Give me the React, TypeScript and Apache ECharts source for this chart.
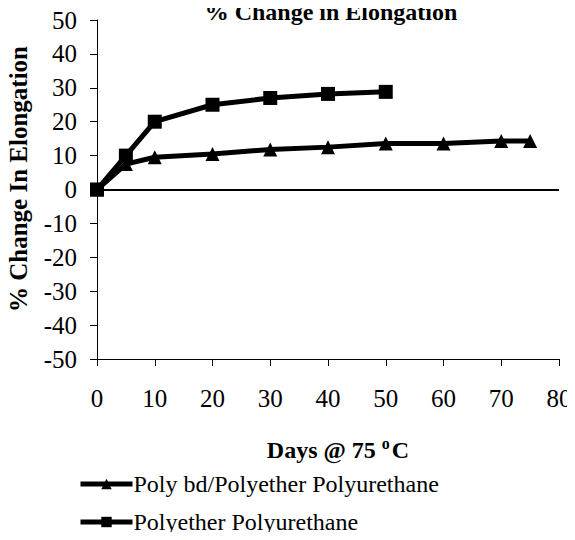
import React, { useEffect, useRef } from "react";
import * as echarts from "echarts";

const titleText = "% Change in Elongation";
const yAxisTitle = "% Change In Elongation";
const xAxisTitle = "{a|Days @ 75 }{s|o}{a|C}";
const seriesNames = ["Poly bd/Polyether Polyurethane", "Polyether Polyurethane"];
const polyBdDays = [0, 5, 10, 20, 30, 40, 50, 60, 70, 75];
const polyBdValues = [0, 7.5, 9.5, 10.5, 11.8, 12.5, 13.6, 13.6, 14.3, 14.3];
const polyetherDays = [0, 5, 10, 20, 30, 40, 50];
const polyetherValues = [0, 10, 20, 25, 27, 28.2, 28.8];

const FONT = "Liberation Serif";

const legendBase = {
  orient: "horizontal",
  left: 73,
  itemWidth: 52,
  itemHeight: 13,
  lineStyle: { width: 5, color: "#000" },
  textStyle: { fontFamily: FONT, fontSize: 24, color: "#000", padding: [0, 0, 0, -4] },
};

export default function App() {
  const ref = useRef<HTMLDivElement>(null);
  useEffect(() => {
    if (!ref.current) return;
    const chart = echarts.init(ref.current, undefined, { renderer: "svg" });
    chart.setOption({
      animation: false,
      backgroundColor: "#ffffff",
      grid: { left: 97, right: 16, top: 20, bottom: 181, containLabel: false },
      legend: [
        { ...legendBase, top: 467, data: [seriesNames[0]] },
        { ...legendBase, top: 505, data: [seriesNames[1]] },
      ],
      xAxis: {
        type: "value",
        min: 0,
        max: 80,
        interval: 10,
        axisLine: { onZero: false, lineStyle: { color: "#000", width: 1 } },
        axisTick: { show: true, inside: false, length: 7, lineStyle: { color: "#000" } },
        axisLabel: { margin: 27, fontFamily: FONT, fontSize: 25, color: "#000" },
        splitLine: { show: false },
      },
      yAxis: {
        type: "value",
        min: -50,
        max: 50,
        interval: 10,
        axisLine: { show: true, lineStyle: { color: "#000", width: 1 } },
        axisTick: { show: true, inside: false, length: 7, lineStyle: { color: "#000" } },
        axisLabel: { margin: 20, fontFamily: FONT, fontSize: 25, color: "#000" },
        splitLine: { show: false },
      },
      graphic: [
        {
          type: "text",
          x: 331,
          y: 12,
          style: {
            text: titleText,
            fontFamily: FONT,
            fontWeight: "bold",
            fontSize: 24,
            fill: "#000",
            textAlign: "center",
            textVerticalAlign: "middle",
          },
        },
        {
          type: "text",
          x: 18,
          y: 179,
          rotation: Math.PI / 2,
          style: {
            text: yAxisTitle,
            fontFamily: FONT,
            fontWeight: "bold",
            fontSize: 25,
            fill: "#000",
            textAlign: "center",
            textVerticalAlign: "middle",
          },
        },
        {
          type: "text",
          x: 338,
          y: 450,
          style: {
            text: xAxisTitle,
            textAlign: "center",
            textVerticalAlign: "middle",
            rich: {
              a: { fontFamily: FONT, fontWeight: "bold", fontSize: 24, fill: "#000" },
              s: { fontFamily: FONT, fontWeight: "bold", fontSize: 16, fill: "#000", padding: [0, 2, 14, 0] },
            },
          },
        },
      ],
      series: [
        {
          name: seriesNames[0],
          type: "line",
          data: polyBdDays.map((d, i) => [d, polyBdValues[i]]),
          symbol: "triangle",
          symbolSize: 14,
          lineStyle: { color: "#000", width: 5 },
          itemStyle: { color: "#000" },
          z: 3,
          markLine: {
            silent: true,
            symbol: "none",
            label: { show: false },
            lineStyle: { color: "#000", width: 2, type: "solid" },
            data: [{ yAxis: 0 }],
          },
        },
        {
          name: seriesNames[1],
          type: "line",
          data: polyetherDays.map((d, i) => [d, polyetherValues[i]]),
          symbol: "rect",
          symbolSize: 14,
          lineStyle: { color: "#000", width: 5 },
          itemStyle: { color: "#000" },
          z: 4,
        },
      ],
    });
    return () => chart.dispose();
  }, []);
  return <div ref={ref} style={{ width: 575, height: 540, margin: -8 }} />;
}
